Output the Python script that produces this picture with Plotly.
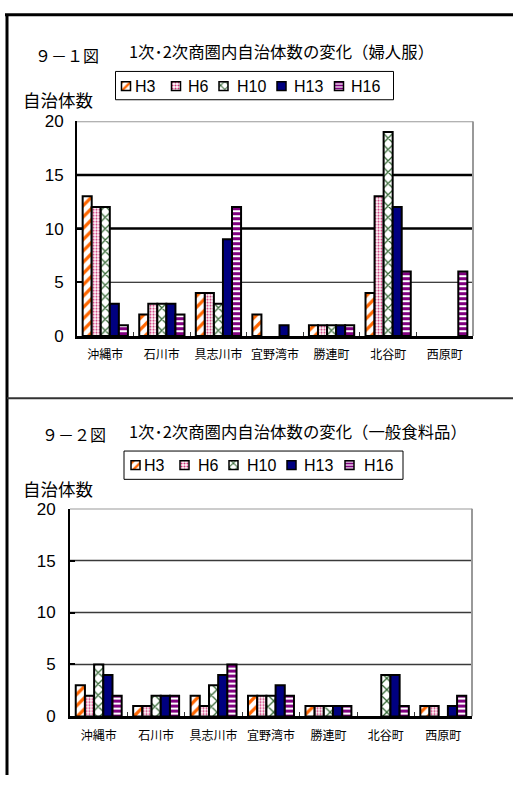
import plotly.graph_objects as go

# ---------------- data ----------------
categories = ["沖縄市", "石川市", "具志川市", "宜野湾市", "勝連町", "北谷町", "西原町"]
series_names = ["H3", "H6", "H10", "H13", "H16"]

# 9-1 婦人服
f1_h3 = [13, 2, 4, 2, 1, 4, 0]
f1_h6 = [12, 3, 4, 0, 1, 13, 0]
f1_h10 = [12, 3, 3, 0, 1, 19, 0]
f1_h13 = [3, 3, 9, 1, 1, 12, 0]
f1_h16 = [1, 2, 12, 0, 1, 6, 6]

# 9-2 一般食料品
f2_h3 = [3, 1, 2, 2, 1, 0, 1]
f2_h6 = [2, 1, 1, 2, 1, 0, 1]
f2_h10 = [5, 2, 3, 2, 1, 4, 0]
f2_h13 = [4, 2, 4, 3, 1, 4, 1]
f2_h16 = [2, 2, 5, 2, 1, 1, 2]

y_ticks = [0, 5, 10, 15, 20]

title1 = "９－１図"
subtitle1 = "1次･2次商圏内自治体数の変化（婦人服）"
title2 = "９－２図"
subtitle2 = "1次･2次商圏内自治体数の変化（一般食料品）"
ylabel = "自治体数"

# ---------------- styles ----------------
W, H = 513, 785
JP = "Noto Sans CJK JP, sans-serif"
LAT = "Liberation Sans, Arial, sans-serif"

styles = [
    dict(shape="/", fg="#FF6600", bg="white", size=8, solidity=0.4),
    dict(shape=".", fg="#CC3377", bg="white", size=3, solidity=0.4),
    dict(shape="x", fg="#336633", bg="white", size=8, solidity=0.3),
    dict(shape="", fg="#000080", bg="#000080", size=8, solidity=0.3),
    dict(shape="-", fg="#800080", bg="white", size=5, solidity=0.6),
]


def px_x(p):
    return p / W


def px_y(p):
    return 1 - p / H


def pattern_for(st, shrink=0):
    if not st["shape"]:
        return None
    return dict(shape=st["shape"], fgcolor=st["fg"], bgcolor=st["bg"], fgopacity=1,
                size=max(3, st["size"] - shrink), solidity=st["solidity"], fillmode="replace")


def nz(vals):
    return [v if v else None for v in vals]


fig = go.Figure()

chart1 = [f1_h3, f1_h6, f1_h10, f1_h13, f1_h16]
chart2 = [f2_h3, f2_h6, f2_h10, f2_h13, f2_h16]

for (xa, ya), chart in [(("x", "y"), chart1), (("x2", "y2"), chart2)]:
    for name, vals, st in zip(series_names, chart, styles):
        fig.add_trace(go.Bar(
            x=categories, y=nz(vals), name=name,
            marker=dict(color=st["bg"], line=dict(color="black", width=2),
                        pattern=pattern_for(st)),
            xaxis=xa, yaxis=ya, showlegend=False))

# legend symbols drawn on a hidden pixel-scaled helper axis
leg1_sym_x = [126, 176, 223.5, 281.5, 339]
leg1_text_x = [133, 186, 235, 292, 349]
leg1_y = 79
leg2_sym_x = [135.5, 184.5, 233.5, 291.5, 349.5]
leg2_text_x = [142, 196, 245, 302, 362]
leg2_y = 467.5
sym = 9

for i, (name, st) in enumerate(zip(series_names, styles)):
    fig.add_trace(go.Bar(
        x=[leg1_sym_x[i], leg2_sym_x[i]],
        y=[sym, sym],
        base=[leg1_y - sym / 2, leg2_y - sym / 2],
        width=[sym, sym], offset=[-sym / 2, -sym / 2], offsetgroup="leg",
        marker=dict(color=st["bg"], line=dict(color="black", width=1.5),
                    pattern=pattern_for(st, shrink=2)),
        xaxis="x3", yaxis="y3", showlegend=False, hoverinfo="skip"))

annotations = []
shapes = []

# frame lines
shapes.append(dict(type="line", xref="paper", yref="paper", x0=px_x(5), x1=1,
                   y0=px_y(6), y1=px_y(6), line=dict(color="black", width=3)))
shapes.append(dict(type="line", xref="paper", yref="paper", x0=px_x(7), x1=px_x(7),
                   y0=px_y(5), y1=0, line=dict(color="black", width=3)))
shapes.append(dict(type="line", xref="paper", yref="paper", x0=px_x(7), x1=1,
                   y0=px_y(399), y1=px_y(399), line=dict(color="#333333", width=2)))

# legend boxes
for (x0, x1, y0, y1) in [(115.5, 393.5, 64, 93), (124, 403, 453, 482)]:
    shapes.append(dict(type="rect", xref="paper", yref="paper", x0=px_x(x0), x1=px_x(x1),
                       y0=px_y(y0), y1=px_y(y1), line=dict(color="black", width=1),
                       fillcolor="rgba(0,0,0,0)"))

for tx, ty in [(leg1_text_x, leg1_y), (leg2_text_x, leg2_y)]:
    for name, x in zip(series_names, tx):
        annotations.append(dict(text=name, x=px_x(x), y=px_y(ty + 0.5), xref="paper", yref="paper",
                                xanchor="left", yanchor="middle", showarrow=False,
                                font=dict(family=LAT, size=16, color="black")))

# titles
for t, x, y in [(title1, 33, 47), (title2, 40, 436)]:
    annotations.append(dict(text=t, x=px_x(x), y=px_y(y), xref="paper", yref="paper",
                            xanchor="left", yanchor="middle", showarrow=False,
                            font=dict(family=JP, size=16, color="black")))
for t, x, y in [(subtitle1, 127, 43), (subtitle2, 127, 432)]:
    annotations.append(dict(text=t, x=px_x(x), y=px_y(y), xref="paper", yref="paper",
                            xanchor="left", yanchor="middle", showarrow=False,
                            font=dict(family=JP, size=16.4, color="black")))
for y in [93, 491]:
    annotations.append(dict(text=ylabel, x=px_x(21), y=px_y(y), xref="paper", yref="paper",
                            xanchor="left", yanchor="middle", showarrow=False,
                            font=dict(family=JP, size=17.5, color="black")))

# gridlines and borders
grid1 = [(5, 1.2), (10, 2.5), (15, 2.5)]
for v, w in grid1:
    shapes.append(dict(type="line", xref="x domain", yref="y", x0=0, x1=1, y0=v, y1=v,
                       line=dict(color="black", width=w), layer="below"))
for v in [5, 10, 15]:
    shapes.append(dict(type="line", xref="x2 domain", yref="y2", x0=0, x1=1, y0=v, y1=v,
                       line=dict(color="#3a3a3a", width=1.5), layer="below"))
for xa, ya in [("x", "y"), ("x2", "y2")]:
    shapes.append(dict(type="line", xref=f"{xa} domain", yref=ya, x0=0, x1=1, y0=20, y1=20,
                       line=dict(color="#999999", width=2), layer="below"))
    shapes.append(dict(type="line", xref=f"{xa} domain", yref=ya, x0=1, x1=1, y0=0, y1=20,
                       line=dict(color="#999999", width=2), layer="below"))


def xaxis_cfg(x0, x1, anchor):
    return dict(domain=[px_x(x0), px_x(x1)], anchor=anchor, type="category",
                categoryorder="array", categoryarray=categories,
                showline=True, linecolor="black", linewidth=3, ticks="inside",
                tickson="boundaries", ticklen=4, tickcolor="#333333", tickwidth=1,
                showgrid=False, zeroline=False, ticklabelstandoff=6, tickangle=0,
                tickfont=dict(family=JP, size=12, color="black"), fixedrange=True)


def yaxis_cfg(top, bottom, anchor, standoff):
    return dict(domain=[px_y(bottom), px_y(top)], anchor=anchor, range=[0, 20],
                tickvals=y_ticks, showline=True, linecolor="black", linewidth=2,
                ticks="inside", ticklen=5, tickcolor="black", tickwidth=1.5,
                showgrid=False, zeroline=False, ticklabelstandoff=standoff,
                tickfont=dict(family=LAT, size=17, color="black"), fixedrange=True)


fig.update_layout(
    width=W, height=H, margin=dict(l=0, r=0, t=0, b=0),
    paper_bgcolor="white", plot_bgcolor="rgba(0,0,0,0)",
    barmode="group", bargap=0.2, bargroupgap=0,
    showlegend=False,
    xaxis=xaxis_cfg(77, 473, "y"),
    yaxis=yaxis_cfg(115, 335, "x", 8),
    xaxis2=xaxis_cfg(70, 472, "y2"),
    yaxis2=yaxis_cfg(512, 725, "x2", 9),
    xaxis3=dict(domain=[0, 1], anchor="y3", range=[0, W], visible=False, fixedrange=True),
    yaxis3=dict(domain=[0, 1], anchor="x3", range=[H, 0], visible=False, fixedrange=True),
    shapes=shapes, annotations=annotations,
)

fig.write_html("out.html")
